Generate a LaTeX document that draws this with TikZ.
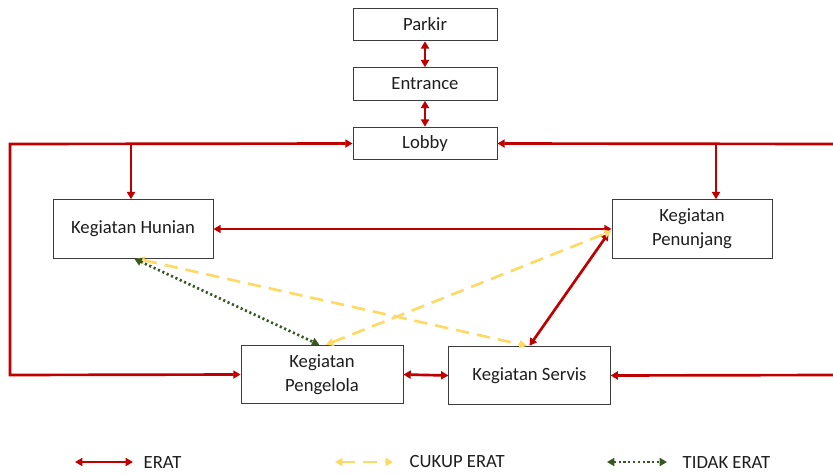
\documentclass[tikz,border=0pt]{standalone}
\usepackage{fontspec}
\setmainfont{Carlito}
\usepackage{tikz}
\usetikzlibrary{arrows.meta, positioning}
\definecolor{myred}{RGB}{192,0,0}
\definecolor{myyellow}{RGB}{255,217,102}
\definecolor{mygreen}{RGB}{56,87,35}
\definecolor{myedge}{RGB}{60,60,60}
\definecolor{mytext}{RGB}{30,30,30}
\tikzset{
  >={Triangle[length=5.5pt, width=6pt]},
  box/.style={rectangle, draw=myedge, fill=white, line width=0.6pt, text=mytext,
    minimum width=108pt, minimum height=24.5pt, font=\fontsize{14}{16}\selectfont},
  bigbox/.style={rectangle, draw=myedge, fill=white, line width=0.6pt, text=mytext,
    minimum width=120pt, minimum height=44pt, align=center,
    font=\fontsize{14}{18}\selectfont},
  erat/.style={<->, line width=2pt, color=myred},
  eratone/.style={->, line width=2pt, color=myred},
  cukup/.style={<->, line width=2pt, color=myyellow, dash pattern=on 10pt off 6pt},
  tidak/.style={<->, line width=2pt, color=mygreen, dash pattern=on 1.6pt off 2pt},
  keytext/.style={anchor=west, text=mytext, font=\fontsize{14}{16}\selectfont}
}

\begin{document}
\begin{tikzpicture}[x=0.75pt, y=-0.75pt]
  \useasboundingbox (0,0) rectangle (833,475);

  % entrance sequence
  \node[box] (parkir) at (425,24.5) {Parkir};
  \node[box] (entrance) at (425,84) {Entrance};
  \node[box] (lobby) at (425,143.5) {Lobby};

  % activity groups
  \node[bigbox] (hunian) at (133,229) {Kegiatan Hunian};
  \node[bigbox] (penunjang) at (692,229) {Kegiatan\\Penunjang};
  \node[bigbox, minimum width=121.5pt] (pengelola) at (322,374.5) {Kegiatan\\Pengelola};
  \node[bigbox, minimum width=121pt] (servis) at (529.5,375.5) {Kegiatan Servis};

  % loop corners
  \coordinate (lt) at (10,144);
  \coordinate (lb) at (10,375);
  \coordinate (rt) at (833,144);
  \coordinate (rb) at (833,375);
  \coordinate (ht) at (131,144);
  \coordinate (pt) at (716,144);

  \draw[erat] (parkir) -- (entrance);
  \draw[erat] (entrance) -- (lobby);

  % left loop
  \draw[erat] (lobby.west) -- (lt) -- (lb) -- (pengelola.west);
  \draw[eratone] (ht) -- (ht |- hunian.north);

  % right loop
  \draw[eratone] (rt) -- (lobby.east);
  \draw[eratone] (rb) -- (servis.east);
  \draw[eratone] (pt) -- (pt |- penunjang.north);

  % links between groups
  \draw[erat] (hunian.east) -- (penunjang.west);
  \draw[erat] ([shift={(-3,4)}]penunjang.west) -- (servis.north);
  \draw[erat] (pengelola.east) -- (servis.west);
  \draw[cukup] ([xshift=3pt]hunian.south) -- ([xshift=-2pt]servis.north);
  \draw[cukup] ([xshift=3pt]pengelola.north) -- ([yshift=-1.5pt]penunjang.west);
  \draw[tidak] ([xshift=1pt]hunian.south) -- ([xshift=-2pt]pengelola.north);

  % legend
  \coordinate (k1a) at (75,462);
  \coordinate (k1b) at (133,462);
  \coordinate (k2a) at (335,462);
  \coordinate (k2b) at (393,462);
  \coordinate (k3a) at (607,462);
  \coordinate (k3b) at (667,462);
  \draw[erat] (k1a) -- (k1b);
  \draw[cukup] (k2a) -- (k2b);
  \draw[tidak] (k3a) -- (k3b);
  \node[keytext] (keyerat) at (139,463) {ERAT};
  \node[keytext] (keycukup) at (405,462) {CUKUP ERAT};
  \node[keytext] (keytidak) at (678,463) {TIDAK ERAT};
\end{tikzpicture}
\end{document}
